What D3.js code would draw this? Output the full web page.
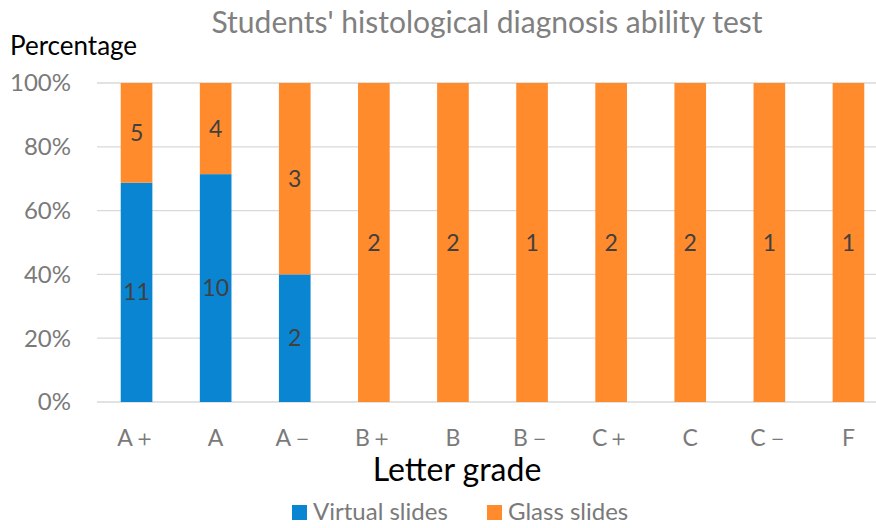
<!DOCTYPE html>
<html lang="en">
<head>
    <meta charset="utf-8">
    <title>Histological diagnosis</title>
    <script src="https://d3js.org/d3.v7.min.js" charset="utf-8"></script>
    <style type="text/css">
        body { margin: 0; background: #fff; }
        svg text { font-family: 'Lato', 'Open Sans', sans-serif; }
    </style>
</head>
<body>
    <script type="text/javascript">
        // data
        var grades = ["A＋", "A", "A－", "B＋", "B", "B－", "C＋", "C", "C－", "F"];
        var virtualSlides = [11, 10, 2, 0, 0, 0, 0, 0, 0, 0];
        var glassSlides = [5, 4, 3, 2, 2, 1, 2, 2, 1, 1];
        var seriesNames = ["Virtual slides", "Glass slides"];
        var yTicks = [0, 0.2, 0.4, 0.6, 0.8, 1];

        var colors = ["#0A85D2", "#FF8B2D"];
        var width = 876, height = 528;

        var svg = d3.select("body")
                    .append("svg")
                    .attr("width", width)
                    .attr("height", height);

        var table = grades.map(function (g, i) {
            return { grade: g, v: virtualSlides[i], g: glassSlides[i] };
        });

        var x = d3.scaleBand()
                  .domain(grades)
                  .range([97, 888])
                  .paddingInner(0.6)
                  .paddingOuter(0.3);
        var y = d3.scaleLinear().domain([0, 1]).range([402, 83]);

        // gridlines
        svg.append("g")
           .selectAll("line")
           .data(yTicks)
           .enter()
           .append("line")
           .attr("x1", 97)
           .attr("x2", 888)
           .attr("y1", function (d) { return y(d); })
           .attr("y2", function (d) { return y(d); })
           .attr("stroke", "#d9d9d9")
           .attr("stroke-width", 1.3);

        // y tick labels
        svg.append("g")
           .selectAll("text")
           .data(yTicks)
           .enter()
           .append("text")
           .attr("x", 71)
           .attr("y", function (d) { return y(d); })
           .attr("dy", "0.35em")
           .attr("text-anchor", "end")
           .attr("font-size", "24px")
           .attr("fill", "#7a7a7a")
           .text(function (d) { return Math.round(d * 100) + "%"; });

        var stack = d3.stack().keys(["v", "g"])
                      .offset(d3.stackOffsetExpand);
        var layers = stack(table);

        var groups = svg.selectAll("g.layer")
                        .data(layers)
                        .enter()
                        .append("g")
                        .attr("class", "layer")
                        .attr("fill", function (d, i) { return colors[i]; });

        groups.selectAll("rect")
              .data(function (d) { return d; })
              .enter()
              .append("rect")
              .attr("x", function (d) { return x(d.data.grade); })
              .attr("width", x.bandwidth())
              .attr("y", function (d) { return y(d[1]); })
              .attr("height", function (d) { return y(d[0]) - y(d[1]); });

        // value labels
        groups.selectAll("text")
              .data(function (d) { return d.filter(function (s) { return s[1] - s[0] > 0; }); })
              .enter()
              .append("text")
              .attr("x", function (d) { return x(d.data.grade) + x.bandwidth() / 2; })
              .attr("y", function (d) { return (y(d[0]) + y(d[1])) / 2; })
              .attr("dy", "0.35em")
              .attr("text-anchor", "middle")
              .attr("font-size", "23px")
              .attr("fill", "#404040")
              .text(function (d) {
                  var key = d3.select(this.parentNode).datum().key;
                  return d.data[key];
              });

        // x tick labels
        svg.append("g")
           .selectAll("text")
           .data(grades)
           .enter()
           .append("text")
           .attr("x", function (d) { return x(d) + x.bandwidth() / 2; })
           .attr("y", 438)
           .attr("dy", "0.35em")
           .attr("text-anchor", "middle")
           .attr("font-size", "23px")
           .attr("fill", "#7a7a7a")
           .text(function (d) { return d; });

        // titles
        svg.append("text")
           .attr("x", 487)
           .attr("y", 22)
           .attr("dy", "0.35em")
           .attr("text-anchor", "middle")
           .attr("font-size", "30px")
           .attr("fill", "#808080")
           .text("Students' histological diagnosis ability test");

        svg.append("text")
           .attr("x", 10)
           .attr("y", 46)
           .attr("dy", "0.35em")
           .attr("font-size", "26px")
           .attr("fill", "#000")
           .text("Percentage");

        svg.append("text")
           .attr("x", 457)
           .attr("y", 470)
           .attr("dy", "0.35em")
           .attr("text-anchor", "middle")
           .attr("font-size", "32px")
           .attr("fill", "#000")
           .text("Letter grade");

        // legend
        var legendX = [292, 487];
        var legend = svg.selectAll("g.legend")
                        .data(seriesNames)
                        .enter()
                        .append("g")
                        .attr("class", "legend")
                        .attr("transform", function (d, i) { return "translate(" + legendX[i] + ",512)"; });
        legend.append("rect")
              .attr("x", 0)
              .attr("y", -7)
              .attr("width", 15)
              .attr("height", 15)
              .attr("fill", function (d, i) { return colors[i]; });
        legend.append("text")
              .attr("x", 21)
              .attr("y", 0)
              .attr("dy", "0.35em")
              .attr("font-size", "24px")
              .attr("fill", "#7a7a7a")
              .text(function (d) { return d; });
    </script>
</body>
</html>
